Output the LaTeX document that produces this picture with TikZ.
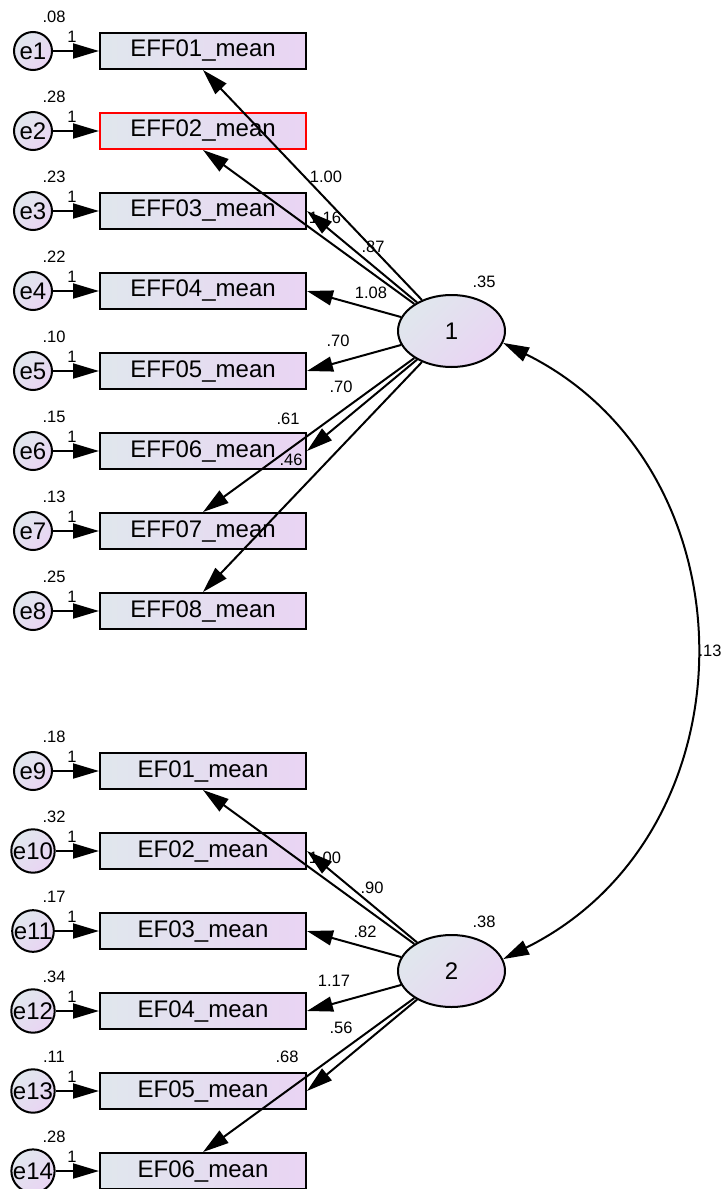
\documentclass[tikz,border=0pt]{standalone}
\usepackage{fontspec}
\setmainfont{Liberation Sans}
\usetikzlibrary{arrows.meta,shapes.geometric}
\definecolor{shadeA}{RGB}{224,231,237}
\definecolor{shadeB}{RGB}{233,212,243}
\begin{document}
\begin{tikzpicture}[x=1pt,y=-1pt,
  obs/.style={rectangle,draw=black,line width=2pt,minimum width=206pt,minimum height=36pt,
    inner sep=0pt,left color=shadeA,right color=shadeB,font=\fontsize{24}{26}\selectfont},
  flag/.style={obs,draw=red},
  err/.style={circle,draw=black,line width=2pt,minimum size=38pt,inner sep=0pt,
    left color=shadeA,right color=shadeB,shading angle=45,font=\fontsize{24}{26}\selectfont},
  lat/.style={ellipse,draw=black,line width=2pt,minimum width=107pt,minimum height=72pt,
    inner sep=0pt,left color=shadeA,right color=shadeB,shading angle=45,
    font=\fontsize{24}{26}\selectfont},
  est/.style={inner sep=0pt,font=\fontsize{16.5}{18}\selectfont},
  reg/.style={line width=2pt,-{Triangle[length=26pt,width=15pt]}},
  cov/.style={line width=2pt,{Triangle[length=26pt,width=15pt]}-{Triangle[length=26pt,width=15pt]}}
]
\useasboundingbox (0,0) rectangle (726,1189);

% observed indicators with their error terms
\foreach \n/\y/\v/\t/\s in {1/51/.08/EFF01/obs,2/131/.28/EFF02/flag,3/211/.23/EFF03/obs,
    4/291/.22/EFF04/obs,5/371/.10/EFF05/obs,6/451/.15/EFF06/obs,7/531/.13/EFF07/obs,
    8/611/.25/EFF08/obs,9/771/.18/EF01/obs,10/851/.32/EF02/obs,11/931/.17/EF03/obs,
    12/1011/.34/EF04/obs,13/1091/.11/EF05/obs,14/1171/.28/EF06/obs}{
  \node[\s] (b\n) at (203,\y) {\t\_mean};
  \node[err] (e\n) at (33,\y) {e\n};
  \node[est] (v\n) at (54,\y-34) {\v};
  \node[est] (w\n) at (72,\y-14) {1};
  \draw[reg] (e\n) -- (b\n);
}

% latent factors
\node[lat] (f1) at (451.5,331) {1};
\node[lat] (f2) at (451.5,971) {2};
\node[est] (vf1) at (484,282) {.35};
\node[est] (vf2) at (484,922) {.38};

% loading estimates
\node[est] (l1) at (326,177) {1.00};
\node[est] (l2) at (325,218) {1.16};
\node[est] (l3) at (373,247) {.87};
\node[est] (l4) at (371,293) {1.08};
\node[est] (l5) at (338,341) {.70};
\node[est] (l6) at (341,387) {.70};
\node[est] (l7) at (288,419) {.61};
\node[est] (l8) at (291,460) {.46};
\node[est] (m1) at (325,858) {1.00};
\node[est] (m2) at (372,888) {.90};
\node[est] (m3) at (365,932) {.82};
\node[est] (m4) at (334,981) {1.17};
\node[est] (m5) at (341,1028) {.56};
\node[est] (m6) at (287,1057) {.68};

% factor loadings
\draw[reg] (f1) -- (b1.south);
\draw[reg] (f1) -- (b2.south);
\draw[reg] (f1) -- (b3.east);
\draw[reg] (f1) -- (b4.east);
\draw[reg] (f1) -- (b5.east);
\draw[reg] (f1) -- (b6.east);
\draw[reg] (f1) -- (b7.north);
\draw[reg] (f1) -- (b8.north);
\draw[reg] (f2) -- (b9.south);
\draw[reg] (f2) -- (b10.east);
\draw[reg] (f2) -- (b11.east);
\draw[reg] (f2) -- (b12.east);
\draw[reg] (f2) -- (b13.east);
\draw[reg] (f2) -- (b14.north);

% factor covariance
\draw[cov] (f1.-13) .. controls +(254,126) and +(254,-126) .. (f2.13);
\node[est] (c12) at (710,651) {.13};
\end{tikzpicture}
\end{document}
